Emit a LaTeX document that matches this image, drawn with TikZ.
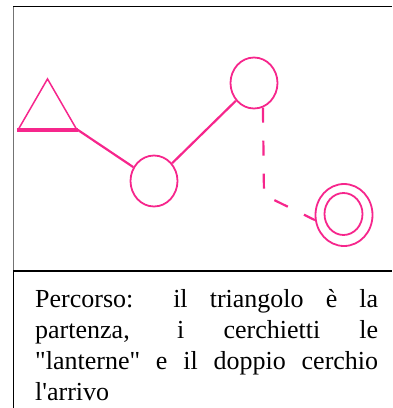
\documentclass[tikz,border=0pt]{standalone}
\usepackage{fontspec}
\setmainfont{Liberation Serif}[Ligatures=TeXOff]
\usetikzlibrary{shapes.geometric}
\definecolor{percorso}{RGB}{246,38,140}

\begin{document}
\begin{tikzpicture}[x=1pt, y=-1pt,
  pathline/.style={draw=percorso, line width=2.2pt},
  lanterna/.style={ellipse, draw=percorso, line width=1.8pt,
    minimum width=47pt, minimum height=51pt, inner sep=0pt}]

  \useasboundingbox (0,0) rectangle (392,408);

  % Frame and separator
  \draw[black!55, line width=1pt] (13.5,6) -- (13.5,271);
  \draw[black, line width=1.3pt] (13.5,271) -- (13.5,408);
  \draw[black, line width=1pt] (13,6) -- (392,6);
  \draw[black, line width=1.5pt] (13,271) -- (392,271);

  % Start
  \node[regular polygon, regular polygon sides=3, draw=percorso, line width=1.5pt,
    minimum size=67pt, inner sep=0pt] (partenza) at (47.5,112.4) {};
  \draw[percorso, line width=3.5pt] (partenza.corner 2) -- (partenza.corner 3);

  % Lanterns
  \node[lanterna] (lanterna1) at (154,181) {};
  \node[lanterna] (lanterna2) at (254,83) {};

  % Arrival (double circle)
  \node[lanterna, minimum width=57pt, minimum height=62pt] (arrivo) at (344,215) {};
  \node[lanterna, minimum width=38pt, minimum height=42pt] (arrivoIn) at (343.5,214) {};

  % Path
  \draw[pathline] (partenza.corner 3) -- (lanterna1);
  \draw[pathline] (lanterna1) -- (lanterna2);
  \coordinate (svolta) at (264,195);
  \draw[pathline, dash pattern=on 15pt off 18pt] (lanterna2.-70) -- (svolta) -- (arrivo.190);

  % Caption
  \node[anchor=base west, inner sep=0pt, font=\fontsize{26}{31}\selectfont] (legenda) at (35,307)
    {\parbox[t]{343pt}{Percorso: il triangolo è la\linebreak
      partenza, i cerchietti le\linebreak
      "lanterne" e il doppio cerchio\linebreak
      l'arrivo}};

\end{tikzpicture}
\end{document}
